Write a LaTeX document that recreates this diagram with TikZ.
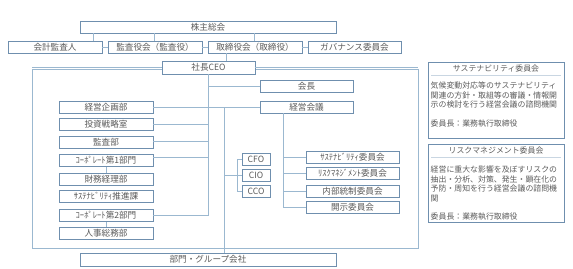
\documentclass[tikz,border=0pt]{standalone}
\usepackage{fontspec}
\setmainfont{Noto Sans CJK JP}
\usetikzlibrary{calc}
\definecolor{bxline}{HTML}{6F8FAE}
\definecolor{cnline}{HTML}{9BB8D0}
\definecolor{txt}{HTML}{5A5A5A}
\definecolor{sepline}{HTML}{C9D6E2}
\begin{document}
\begin{tikzpicture}[x=1pt,y=-1pt,
  bx/.style={draw=bxline,line width=0.8pt,fill=white,inner sep=0pt,minimum height=12pt,
    text=txt,font=\fontsize{8.6}{9}\selectfont},
  wbox/.style={bx,minimum width=94pt},
  sbox/.style={bx,minimum width=28pt},
  cn/.style={draw=cnline,line width=0.8pt},
  panel/.style={draw=bxline,line width=0.8pt},
  ptxt/.style={text=txt,font=\fontsize{7.9}{9.4}\selectfont,inner sep=0pt,anchor=north west,align=left}]
\useasboundingbox (0,0) rectangle (573,268);
% outer frame
\draw[cn] (32,69) rectangle (418,248);
% top level
\node[bx,minimum width=256pt] (kabu) at (208,27) {株主総会};
\node[wbox] (kaikei) at (55,47) {会計監査人};
\node[wbox] (kansa) at (155,47) {監査役会（監査役）};
\node[wbox] (tori) at (255,47) {取締役会（取締役）};
\node[wbox,minimum width=93pt] (gov) at (354.5,47) {ガバナンス委員会};
\node[bx,minimum width=93pt,minimum height=13pt] (ceo) at (208.5,67.5) {社長CEO};
% right column
\node[bx,minimum width=93pt] (kaicho) at (306.5,86) {会長};
\node[bx,minimum width=93pt] (kaigi) at (306.5,107) {経営会議};
% left column
\node[wbox] (keiki) at (106,107) {経営企画部};
\node[wbox] (toushi) at (106,124.5) {投資戦略室};
\node[wbox] (kansabu) at (106,142) {監査部};
\node[wbox] (corp1) at (106,160.5) {ｺｰﾎﾟﾚｰﾄ第1部門};
\node[wbox] (zaimu) at (106,179) {財務経理部};
\node[wbox] (susk) at (106,196) {ｻｽﾃﾅﾋﾞﾘﾃｨ推進課};
\node[wbox] (corp2) at (106,215.5) {ｺｰﾎﾟﾚｰﾄ第2部門};
\node[wbox] (jinji) at (106,233) {人事総務部};
% officers
\node[sbox] (cfo) at (256,159) {CFO};
\node[sbox] (cio) at (256,175) {CIO};
\node[sbox] (cco) at (256,191.5) {CCO};
% committees
\node[bx,minimum width=93pt] (c1) at (352.5,157) {ｻｽﾃﾅﾋﾞﾘﾃｨ委員会};
\node[bx,minimum width=93pt] (c2) at (352.5,173.5) {ﾘｽｸﾏﾈｼﾞﾒﾝﾄ委員会};
\node[bx,minimum width=93pt] (c3) at (352.5,191) {内部統制委員会};
\node[bx,minimum width=93pt] (c4) at (352.5,207.5) {開示委員会};
% bottom
\node[bx,minimum width=256pt,minimum height=13pt] (bumon) at (208,259.5) {部門・グループ会社};
% helper coordinates
\coordinate (xa) at (93,0);
\coordinate (xb) at (154,0);
\coordinate (xc) at (254,0);
\coordinate (xt) at (226,0);
\coordinate (sp) at (208,0);
\coordinate (sq) at (224,0);
\coordinate (sr) at (237,0);
\coordinate (ss) at (283,0);
% connectors top
\draw[cn] (kabu.south -| xa) -- (kaikei.north -| xa);
\draw[cn] (kabu.south -| xb) -- (kansa.north -| xb);
\draw[cn] (kabu.south -| xc) -- (tori.north -| xc);
\draw[cn] (kaikei.east) -- (kansa.west);
\draw[cn] (kansa.east) -- (tori.west);
\draw[cn] (tori.east) -- (gov.west);
\draw[cn] (tori.south -| xt) -- (ceo.north -| xt);
\draw[cn] (ceo.west) -- (ceo.west -| 32,0);
\draw[cn] (ceo.east) -- (ceo.east -| 418,0);
% main spine
\draw[cn] (ceo.south -| sp) -- (corp2.east -| sp) -- (corp2.east);
\draw[cn] (kaicho.west -| sp) -- (kaicho.west);
\draw[cn] (keiki.east) -- (kaigi.west);
\draw[cn] (toushi.east) -- (toushi.east -| sp);
\draw[cn] ([yshift=1pt]kansabu.east) -- ([yshift=1pt]kansabu.east -| sp);
\draw[cn] ([yshift=3pt]corp1.east) -- ([yshift=3pt]corp1.east -| sp);
\draw[cn] (corp1.south) -- (zaimu.north);
\draw[cn] (corp2.south) -- (jinji.north);
% second spine
\draw[cn] (keiki.east -| sq) -- (bumon.north -| sq);
\draw[cn] (cio.west -| sq) -- (cio.west);
\draw[cn] (cfo.west) -- (cfo.west -| sr) -- (cco.west -| sr) -- (cco.west);
% committee spine
\draw[cn] (kaigi.south -| ss) -- (c4.west -| ss) -- (c4.west);
\draw[cn] (c1.west -| ss) -- (c1.west);
\draw[cn] (c2.west -| ss) -- (c2.west);
\draw[cn] (c3.west -| ss) -- (c3.west);
% panels
\draw[panel] (428,62) rectangle (564,138);
\draw[sepline,line width=0.6pt] (431,75.5) -- (561,75.5);
\node[text=txt,font=\fontsize{7.9}{9}\selectfont,inner sep=0pt] (p1t) at (496,68.5) {サステナビリティ委員会};
\node[ptxt] (p1b) at (430.5,82) {気候変動対応等のサステナビリティ\\関連の方針・取組等の審議・情報開\\示の検討を行う経営会議の諮問機関\\[9.4pt]委員長：業務執行取締役};
\draw[panel] (428,144) rectangle (564,222);
\draw[sepline,line width=0.6pt] (431,157.5) -- (561,157.5);
\node[text=txt,font=\fontsize{7.9}{9}\selectfont,inner sep=0pt] (p2t) at (496,150.5) {リスクマネジメント委員会};
\node[ptxt] (p2b) at (430.5,166) {経営に重大な影響を及ぼすリスクの\\抽出・分析、対策、発生・顕在化の\\予防・周知を行う経営会議の諮問機\\関\\[9.4pt]委員長：業務執行取締役};
\end{tikzpicture}
\end{document}
